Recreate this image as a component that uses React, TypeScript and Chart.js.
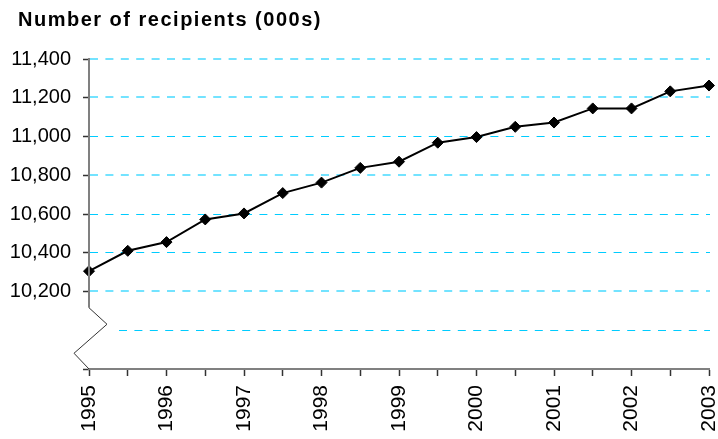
import React, { useEffect, useRef } from "react";
import { Chart, registerables } from "chart.js";

Chart.register(...registerables);

const categories = ["1995", "", "1996", "", "1997", "", "1998", "", "1999", "", "2000", "", "2001", "", "2002", "", "2003"];
const recipients = [10305, 10410, 10455, 10572, 10603, 10708, 10762, 10838, 10870, 10968, 10997, 11050, 11072, 11145, 11145, 11233, 11263];
const yMin = 9800;
const yMax = 11400;
const yStep = 200;
const firstLabeled = 10200;
const breakGridValue = 10000;
const titleText = "Number of recipients (000s)";

const AXIS_GRAY = "#808080";
const TICK_DARK = "#333333";
const GRID_CYAN = "#00CCFF";
const GRID_CYAN_SOFT = "rgba(0,204,255,0.55)";
const FONT = "'Liberation Sans', Arial, sans-serif";

const breakPlugin = {
  id: "axisBreak",
  beforeDatasetsDraw(chart: any) {
    const { ctx, chartArea, scales } = chart;
    const y = scales.y;
    ctx.save();
    ctx.setLineDash([8, 7.4]);
    for (const t of y.ticks) {
      if (t.value < breakGridValue) continue;
      const row = Math.floor(y.getPixelForValue(t.value));
      const startX = t.value === breakGridValue ? chartArea.left + 30 : chartArea.left + 1;
      ctx.beginPath();
      if (row % 2 === 0) {
        ctx.strokeStyle = GRID_CYAN;
        ctx.lineWidth = 1;
        ctx.moveTo(startX, row + 0.5);
        ctx.lineTo(chartArea.right + 1, row + 0.5);
      } else {
        ctx.strokeStyle = GRID_CYAN_SOFT;
        ctx.lineWidth = 2;
        ctx.moveTo(startX, row);
        ctx.lineTo(chartArea.right + 1, row);
      }
      ctx.stroke();
    }
    ctx.restore();
  },
  afterDraw(chart: any) {
    const { ctx, chartArea, scales } = chart;
    const y = scales.y;
    const ax = chartArea.left;
    const y200 = y.getPixelForValue(firstLabeled);
    const y100 = y.getPixelForValue(breakGridValue);
    const unit = y100 - y200;
    const breakTop = y200 + 0.42 * unit;
    ctx.save();
    ctx.setLineDash([]);
    ctx.strokeStyle = AXIS_GRAY;
    ctx.lineWidth = 2;
    ctx.beginPath();
    ctx.moveTo(ax, chartArea.top - 1);
    ctx.lineTo(ax, breakTop);
    ctx.stroke();
    ctx.strokeStyle = "#333333";
    ctx.lineWidth = 1;
    ctx.beginPath();
    ctx.moveTo(ax, breakTop);
    ctx.lineTo(ax + 18, y100 - 6);
    ctx.lineTo(ax - 15, y100 + 23);
    ctx.lineTo(ax, chartArea.bottom);
    ctx.stroke();
    ctx.restore();
  },
};

export default function App() {
  const ref = useRef<HTMLCanvasElement | null>(null);
  useEffect(() => {
    document.body.style.margin = "0";
    const canvas = ref.current;
    if (!canvas) return;
    const chart: any = new Chart(canvas, {
      type: "line",
      data: {
        labels: categories,
        datasets: [
          {
            data: recipients,
            borderColor: "#000000",
            backgroundColor: "#000000",
            borderWidth: 2,
            pointStyle: "rectRot",
            pointRadius: 5.5,
            pointBorderWidth: 1,
            pointBackgroundColor: "#000000",
            pointBorderColor: "#000000",
            tension: 0,
            fill: false,
          },
        ],
      },
      options: {
        responsive: false,
        animation: false,
        events: [],
        layout: { padding: { left: 18, right: 9, top: 0, bottom: 0 } },
        plugins: {
          legend: { display: false },
          tooltip: { enabled: false },
          title: {
            display: true,
            text: titleText,
            align: "start",
            color: "#000000",
            font: { family: FONT, size: 20, weight: "bold" },
            padding: { top: 8, bottom: 27 },
          },
        },
        scales: {
          x: {
            type: "category",
            offset: false,
            grid: {
              drawOnChartArea: false,
              drawTicks: true,
              tickLength: 7,
              tickColor: TICK_DARK,
              tickWidth: 1.5,
            },
            border: { display: true, color: AXIS_GRAY, width: 2 },
            ticks: {
              autoSkip: false,
              maxRotation: 90,
              minRotation: 90,
              padding: 9,
              color: "#000000",
              font: { family: FONT, size: 21 },
            },
            afterFit(scale: any) {
              scale.height = 70;
              scale.paddingLeft = 0;
              scale.paddingRight = 0;
            },
          },
          y: {
            min: yMin,
            max: yMax,
            grid: {
              drawOnChartArea: false,
              lineWidth: 1,
              tickLength: 6,
              tickWidth: 1.5,
              tickColor: (c: any) =>
                c.tick && (c.tick.value >= firstLabeled || c.tick.value === yMin)
                  ? TICK_DARK
                  : "rgba(0,0,0,0)",
              tickBorderDash: [1, 0],
            },
            border: { display: false },
            ticks: {
              stepSize: yStep,
              padding: 12,
              color: "#000000",
              font: { family: FONT, size: 20 },
              callback: (v: any) =>
                Number(v) >= firstLabeled ? Number(v).toLocaleString("en-US") : "",
            },
            afterFit(scale: any) {
              scale.width = 71;
              scale._computeLabelArea = () => undefined;
            },
          },
        },
      },
      plugins: [breakPlugin],
    });
    const tb = chart.titleBlock;
    if (tb) {
      const orig = tb.draw.bind(tb);
      tb.draw = (...args: any[]) => {
        const c: any = chart.ctx;
        c.save();
        c.letterSpacing = "1.5px";
        orig(...args);
        c.restore();
      };
      chart.draw();
    }
    return () => chart.destroy();
  }, []);
  return (
    <div style={{ width: 718, height: 439 }}>
      <canvas ref={ref} width={718} height={439} style={{ display: "block" }} />
    </div>
  );
}
